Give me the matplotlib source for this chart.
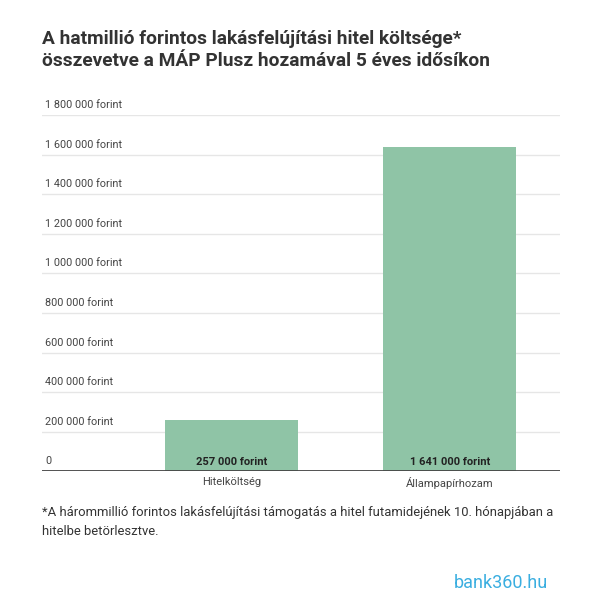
import matplotlib
matplotlib.use("Agg")
import matplotlib.pyplot as plt
from matplotlib.transforms import blended_transform_factory

categories = ["Hitelköltség", "Állampapírhozam"]
values = [257000, 1641000]
value_labels = ["257 000 forint", "1 641 000 forint"]
yticks = [0, 200000, 400000, 600000, 800000, 1000000, 1200000, 1400000, 1600000, 1800000]
ytick_labels = ["0", "200 000 forint", "400 000 forint", "600 000 forint", "800 000 forint",
                "1 000 000 forint", "1 200 000 forint", "1 400 000 forint", "1 600 000 forint", "1 800 000 forint"]

plt.rcParams['font.family'] = ['Roboto', 'DejaVu Sans']
fig = plt.figure(figsize=(6.11, 6.16), dpi=100)
ax = fig.add_axes([0.069, 0.235, 0.848, 0.578])
x = list(range(len(categories)))
ax.bar(x, values, width=0.61, color="#8fc4a6", zorder=2)
ax.set_xlim(-0.869, 1.507)
ax.set_ylim(0, 1800000)
for s in ax.spines.values():
    s.set_visible(False)
ax.set_yticks([])
ax.set_xticks([])
for t in yticks[1:]:
    ax.axhline(t, color="#e6e6e6", lw=1, zorder=1)
ax.axhline(0, color="#444444", lw=1.3, zorder=3)
tr = blended_transform_factory(ax.transAxes, ax.transData)
for t, l in zip(yticks, ytick_labels):
    ax.text(0.006, t + 25000, l, transform=tr, ha="left", va="bottom", fontsize=7.8, color="#444444")
for xi, v, l, c in zip(x, values, value_labels, categories):
    ax.text(xi, 20000, l, ha="center", va="bottom", fontsize=8, fontweight="bold", color="#222222", zorder=4)
    ax.text(xi, -30000, c, ha="center", va="top", fontsize=8, color="#444444")

fig.text(0.069, 0.952, "A hatmillió forintos lakásfelújítási hitel költsége*\nösszevetve a MÁP Plusz hozamával 5 éves idősíkon",
         ha="left", va="top", fontsize=13.8, fontweight="bold", color="#333333", linespacing=1.35)
fig.text(0.069, 0.178, "*A hárommillió forintos lakásfelújítási támogatás a hitel futamidejének 10. hónapjában a\nhitelbe betörlesztve.",
         ha="left", va="top", fontsize=9.4, color="#333333", linespacing=1.6)
fig.text(0.82, 0.053, "bank360.hu", ha="center", va="center", fontsize=13, color="#3aaee0")
fig.savefig("out.png", dpi=100, facecolor="white")
